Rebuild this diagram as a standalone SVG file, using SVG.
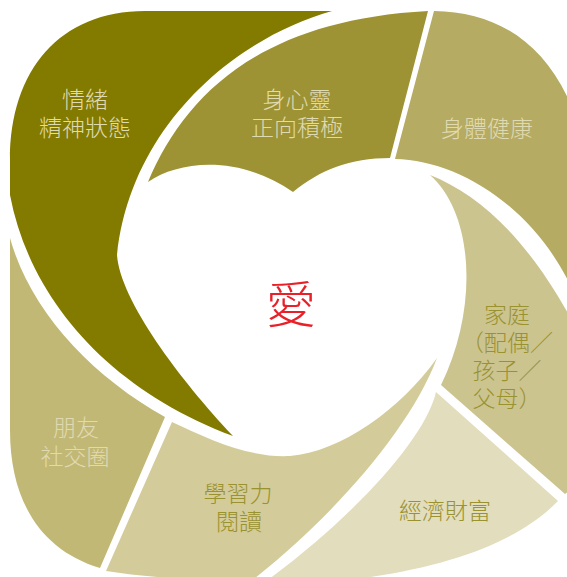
<svg xmlns="http://www.w3.org/2000/svg" width="567" height="577" viewBox="0 0 567 577">
<style>
text{font-family:"Noto Sans CJK TC","Noto Sans CJK SC",sans-serif;font-weight:300;font-size:23px;text-anchor:middle;dominant-baseline:central}
.lt{fill:#E0DAB2}
.dk{fill:#9A922F}
.love{fill:#E8202A;font-size:50px}
</style>
<rect width="567" height="577" fill="#FFFFFF"/>
<g id="emotion">
<path fill="#837A00" d="M332,11 L145,11 C60,11 10,70 10,160 L10,195 C30,300 110,390 233,436 C180,380 120,300 117,255 C130,130 230,40 332,11 Z"/>
<text class="lt"><tspan x="85" y="98">情緒</tspan><tspan x="85" y="126">精神狀態</tspan></text>
</g>
<g id="spirit">
<path fill="#9D9334" d="M148,182 C185,95 260,20 428,11 L390,158 C350,158 320,170 293,192 C240,155 180,160 148,182 Z"/>
<text class="lt"><tspan x="297" y="98">身心靈</tspan><tspan x="297" y="126">正向積極</tspan></text>
</g>
<g id="health">
<path fill="#B5AB62" d="M434,11 C500,12 550,45 577,120 L577,300 C540,210 460,160 395,159 Z"/>
<text class="lt" x="487" y="127">身體健康</text>
</g>
<g id="family">
<path fill="#CCC48F" d="M430,175 C480,195 530,240 577,330 L577,485 L565,494 L441,385 C478,310 475,215 430,175 Z"/>
<text class="dk"><tspan x="507" y="313">家庭</tspan><tspan x="507" y="341">（配偶／</tspan><tspan x="507" y="369">孩子／</tspan><tspan x="507" y="397">父母）</tspan></text>
</g>
<g id="wealth">
<path fill="#E2DDBD" d="M436,392 L558,501 C520,540 450,570 330,582 L265,582 C350,520 425,440 436,392 Z"/>
<text class="dk" x="445" y="509">經濟財富</text>
</g>
<g id="learning">
<path fill="#D3CC9A" d="M172,422 C210,440 250,458 290,456 C340,452 400,410 437,358 C410,430 330,520 250,582 C200,580 150,578 106,571 Z"/>
<text class="dk"><tspan x="238" y="492">學習力</tspan><tspan x="239" y="520">閱讀</tspan></text>
</g>
<g id="friends">
<path fill="#C2B875" d="M10,238 C30,310 90,375 165,417 L100,568 C40,550 10,500 10,430 Z"/>
<text class="lt"><tspan x="76" y="426">朋友</tspan><tspan x="75" y="455">社交圈</tspan></text>
</g>
<g id="love">
<text class="love" x="291" y="301">愛</text>
</g>
<g id="connectors"/>
</svg>
